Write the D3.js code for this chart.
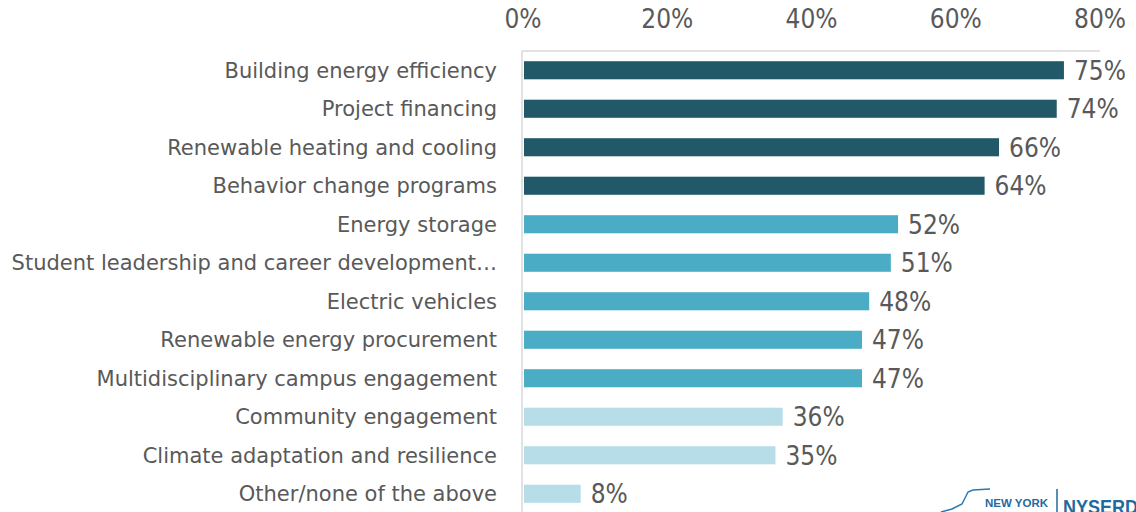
<!DOCTYPE html>
<html>
<head>
<meta charset="utf-8">
<style>
	body { margin: 0; background: #fff; }
	svg text { fill: #595959; }
</style>
<script src="https://d3js.org/d3.v7.min.js"></script>
</head>
<body>
<svg width="1136" height="512"></svg>
<script>

var categories = [
	"Building energy efficiency",
	"Project financing",
	"Renewable heating and cooling",
	"Behavior change programs",
	"Energy storage",
	"Student leadership and career development\u2026",
	"Electric vehicles",
	"Renewable energy procurement",
	"Multidisciplinary campus engagement",
	"Community engagement",
	"Climate adaptation and resilience",
	"Other/none of the above"
];
var values = [75, 74, 66, 64, 52, 51, 48, 47, 47, 36, 35, 8];
var tiers = [0, 0, 0, 0, 1, 1, 1, 1, 1, 2, 2, 2];
var tierColors = ["#215968", "#4bacc6", "#b7dee8"];
var ticks = [0, 20, 40, 60, 80];

var data = categories.map(function(c, i) {
	return {name: c, value: values[i], tier: tiers[i]};
});

var svg = d3.select("svg");

var numFont = "'DejaVu Sans Condensed', 'DejaVu Sans', sans-serif";

var x = d3.scaleLinear().domain([0, 80]).range([523, 1100]);
var y = d3.scaleBand().domain(categories).range([51, 513]).paddingInner(0.53).paddingOuter(0.265);

// top axis labels
svg.append("g")
	.selectAll("text")
	.data(ticks)
	.join("text")
	.attr("x", function(d) { return x(d); })
	.attr("y", 28)
	.attr("text-anchor", "middle")
	.style("font-family", numFont)
	.style("font-stretch", "condensed")
	.style("font-size", "26px")
	.text(function(d) { return d + "%"; });

// top line and vertical axis line
svg.append("line")
	.attr("x1", x(0) - 1).attr("x2", x(80))
	.attr("y1", 51).attr("y2", 51)
	.attr("stroke", "#d9d9d9").attr("stroke-width", 1.5);
svg.append("line")
	.attr("x1", x(0) - 1).attr("x2", x(0) - 1)
	.attr("y1", 51).attr("y2", 512)
	.attr("stroke", "#d9d9d9").attr("stroke-width", 1.5);

// bars
svg.append("g")
	.selectAll("rect")
	.data(data)
	.join("rect")
	.attr("x", x(0) + 1)
	.attr("y", function(d) { return y(d.name); })
	.attr("width", function(d) { return x(d.value) - x(0) - 1; })
	.attr("height", y.bandwidth())
	.attr("fill", function(d) { return tierColors[d.tier]; });

// category labels
svg.append("g")
	.selectAll("text")
	.data(data)
	.join("text")
	.attr("x", 497)
	.attr("y", function(d) { return y(d.name) + y.bandwidth() / 2; })
	.attr("dy", "0.36em")
	.attr("text-anchor", "end")
	.style("font-family", "'DejaVu Sans', sans-serif")
	.style("font-size", "21px")
	.text(function(d) { return d.name; });

// value labels
svg.append("g")
	.selectAll("text")
	.data(data)
	.join("text")
	.attr("x", function(d) { return x(d.value) + 10; })
	.attr("y", function(d) { return y(d.name) + y.bandwidth() / 2; })
	.attr("dy", "0.37em")
	.style("font-family", numFont)
	.style("font-stretch", "condensed")
	.style("font-size", "26px")
	.text(function(d) { return d.value + "%"; });

// logo, cut off at the bottom right as in the source
var logo = svg.append("g");
logo.append("path")
	.attr("d", "M941,512 L952,509 L962,504 L966,496 L968,492 L973,490 L990,489")
	.attr("fill", "none").attr("stroke", "#2a7ab0").attr("stroke-width", 1.5);
logo.append("text")
	.attr("x", 985).attr("y", 507)
	.attr("textLength", 63)
	.style("font-family", "'Liberation Sans', sans-serif")
	.style("font-size", "11.5px").style("font-weight", "bold")
	.style("fill", "#1f6aa0")
	.text("NEW YORK");
logo.append("line")
	.attr("x1", 1057).attr("x2", 1057).attr("y1", 489).attr("y2", 512)
	.attr("stroke", "#1f6aa0").attr("stroke-width", 1.5);
logo.append("text")
	.attr("x", 1063).attr("y", 514)
	.attr("textLength", 88)
	.attr("lengthAdjust", "spacingAndGlyphs")
	.style("font-family", "'Liberation Sans', sans-serif")
	.style("font-size", "21px").style("font-weight", "bold")
	.style("fill", "#1f6aa0")
	.text("NYSERDA");

</script>
</body>
</html>
